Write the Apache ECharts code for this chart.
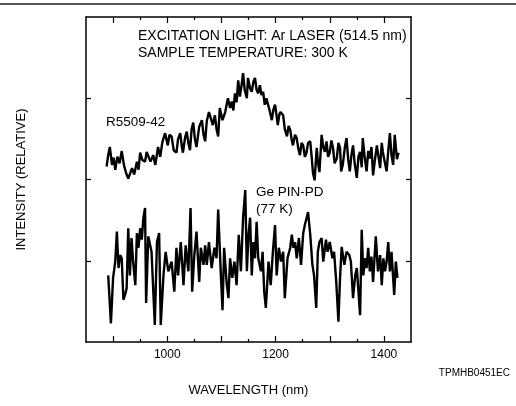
<!DOCTYPE html>
<html>
<head>
<meta charset="utf-8">
<script src="https://cdn.jsdelivr.net/npm/echarts@6/dist/echarts.min.js"></script>
<style>
  html, body { margin: 0; padding: 0; background: #fff; }
  #chart { width: 516px; height: 406px; }
</style>
</head>
<body>
<div id="chart"></div>
<script>
// R5509-42 spectrum (upper trace)
var wlSample = [888,891,894,898,901,904,908,912,916,920,
  924,928,931,935,939,944,947,950,954,959,
  962,965,969,974,978,983,987,991,996,1001,
  1004,1008,1012,1017,1020,1024,1027,1029,1033,1036,
  1039,1042,1045,1048,1051,1054,1059,1064,1067,1070,
  1073,1077,1081,1084,1088,1091,1094,1097,1102,1107,
  1112,1116,1119,1122,1125,1128,1131,1134,1137,1140,
  1143,1147,1149,1153,1156,1159,1162,1165,1168,1171,
  1174,1177,1180,1183,1186,1189,1193,1196,1199,1202,
  1204,1207,1209,1214,1217,1221,1224,1227,1230,1232,
  1236,1239,1242,1245,1248,1251,1254,1257,1260,1264,
  1267,1269,1272,1276,1278,1281,1285,1288,1291,1294,
  1297,1300,1303,1306,1309,1313,1316,1319,1321,1324,
  1328,1331,1334,1337,1340,1343,1346,1350,1353,1356,
  1359,1361,1364,1368,1371,1374,1377,1380,1383,1387,
  1390,1393,1396,1398,1402,1405,1408,1411,1414,1417,
  1420,1424,1427];
var intSample = [2.16,2.30,2.40,2.18,2.27,2.12,2.28,2.20,2.35,2.18,
  2.08,2.01,1.99,2.14,2.06,2.22,2.12,2.33,2.24,2.22,
  2.34,2.36,2.22,2.30,2.18,2.40,2.28,2.46,2.57,2.42,
  2.55,2.53,2.36,2.33,2.50,2.57,2.40,2.33,2.52,2.59,
  2.45,2.36,2.62,2.70,2.50,2.40,2.65,2.73,2.55,2.47,
  2.72,2.83,2.74,2.67,2.79,2.62,2.53,2.88,2.73,2.83,
  3.00,2.88,2.96,2.85,3.06,2.95,3.22,3.02,3.15,3.31,
  3.10,3.00,3.25,3.12,3.08,3.20,3.25,3.10,3.06,3.16,
  3.04,3.08,2.92,3.00,2.98,2.85,2.73,2.86,2.92,2.78,
  2.67,2.80,2.83,2.79,2.62,2.53,2.66,2.61,2.48,2.42,
  2.55,2.51,2.38,2.30,2.45,2.42,2.28,2.33,2.45,2.47,
  2.25,2.08,1.99,2.39,2.22,2.09,2.55,2.40,2.34,2.47,
  2.28,2.33,2.48,2.39,2.20,2.26,2.45,2.39,2.10,2.18,
  2.40,2.51,2.25,2.10,2.30,2.42,2.20,2.02,2.28,2.34,
  2.15,2.51,2.30,2.10,2.35,2.26,2.40,2.05,2.22,2.42,
  2.28,2.14,2.45,2.34,2.20,2.10,2.35,2.57,2.30,2.18,
  2.55,2.25,2.33];

// Ge PIN-PD (77 K) spectrum (lower trace)
var wlGe = [891,896,900,904,907,910,913,916,919,922,925,928,931,934,937,941,944,947,950,953,
  956,959,961,965,971,977,981,985,988,993,997,1002,1008,1013,1017,1020,1025,1030,1034,1039,
  1043,1046,1050,1054,1059,1062,1067,1070,1073,1077,1082,1087,1091,1094,1099,1102,1105,1110,1113,1116,
  1120,1124,1128,1132,1136,1140,1144,1147,1150,1153,1156,1159,1162,1165,1168,1173,1176,1179,1182,1187,
  1191,1195,1199,1202,1206,1210,1214,1217,1222,1227,1230,1233,1236,1239,1243,1247,1251,1254,1260,1264,
  1268,1271,1275,1278,1281,1285,1288,1293,1296,1300,1305,1308,1312,1316,1319,1322,1327,1331,1336,1339,
  1343,1347,1350,1353,1356,1359,1362,1365,1368,1371,1374,1377,1380,1385,1389,1393,1396,1399,1402,1405,
  1408,1411,1414,1419,1422,1425];
var intGe = [0.82,0.23,0.79,0.99,1.36,0.91,1.07,1.03,0.52,0.58,0.66,1.40,0.82,1.28,0.99,0.70,1.34,1.16,1.40,1.26,
  1.53,1.65,0.48,1.30,1.11,0.21,1.23,1.34,0.21,0.82,1.11,0.87,0.99,0.62,1.16,0.82,1.23,0.70,1.19,0.87,
  1.65,0.62,1.07,1.36,0.74,1.16,0.95,1.19,0.95,1.23,0.91,1.16,1.03,1.63,0.82,0.39,1.16,0.70,0.54,1.03,
  0.79,0.99,0.70,1.32,0.87,1.53,1.87,0.87,1.32,1.53,0.82,1.23,1.03,1.48,1.03,0.87,1.11,0.62,0.42,0.99,
  0.70,1.11,1.44,0.82,1.16,0.99,1.11,0.54,1.03,1.16,1.32,1.16,1.23,1.03,1.28,0.95,1.34,1.44,1.60,1.32,
  0.95,0.82,0.42,1.11,1.23,1.28,0.99,1.26,1.11,1.23,1.03,1.11,0.74,0.25,0.79,1.17,0.95,1.11,1.07,0.99,
  0.54,0.82,0.91,0.62,0.33,1.38,0.82,1.03,0.91,1.16,0.87,1.05,0.74,1.30,0.87,1.07,0.70,1.03,0.87,0.99,
  1.23,0.87,1.11,0.58,0.99,0.79];

// axis ticks
var xMajorTicks = [900, 1000, 1100, 1200, 1300, 1400];
var xMinorTicks = [950, 1050, 1150, 1250, 1350];
var xLabels = [1000, 1200, 1400];
var yTicks = [1, 2, 3];

function pairs(xs, ys) {
  return xs.map(function (x, i) { return [x, ys[i]]; });
}

var font = '"Liberation Sans", Arial, Helvetica, sans-serif';

function xAx(pos, ticks, len, showLine, labels) {
  return {
    type: 'value', position: pos, min: 850, max: 1450, interval: 50,
    axisLine: { show: showLine, lineStyle: { color: '#000', width: 1.5 } },
    axisTick: { inside: true, length: len, customValues: ticks, lineStyle: { color: '#000', width: 1.2 } },
    axisLabel: labels ? {
      customValues: labels, color: '#000', fontSize: 12, fontFamily: font, margin: 7,
      formatter: function (v) { return String(v); }
    } : { show: false },
    splitLine: { show: false }
  };
}

function yAx(pos) {
  return {
    type: 'value', position: pos, min: 0, max: 4, interval: 1,
    axisLine: { show: true, lineStyle: { color: '#000', width: 1.5 } },
    axisTick: { inside: true, length: 5, customValues: yTicks, lineStyle: { color: '#000', width: 1.2 } },
    axisLabel: { show: false },
    splitLine: { show: false }
  };
}

var chart = echarts.init(document.getElementById('chart'));

var xBottom = xAx('bottom', xMajorTicks, 6, true, xLabels);
xBottom.name = 'WAVELENGTH (nm)';
xBottom.nameLocation = 'middle';
xBottom.nameGap = 42;
xBottom.nameTextStyle = { color: '#000', fontSize: 13, fontFamily: font };

var yLeft = yAx('left');
yLeft.name = 'INTENSITY (RELATIVE)';
yLeft.nameLocation = 'middle';
yLeft.nameGap = 58;
yLeft.nameTextStyle = { color: '#000', fontSize: 13, fontFamily: font };

chart.setOption({
  animation: false,
  backgroundColor: '#fff',
  grid: { left: 86, right: 105, top: 17, bottom: 64 },
  xAxis: [
    xBottom,
    xAx('bottom', xMinorTicks, 3, false, null),
    xAx('top', xMajorTicks, 6, true, null),
    xAx('top', xMinorTicks, 3, false, null)
  ],
  yAxis: [yLeft, yAx('right')],
  graphic: [
    { type: 'line', shape: { x1: 0, y1: 4, x2: 516, y2: 4 }, style: { stroke: '#555', lineWidth: 2 } },
    { type: 'text', left: 138, top: 29, style: { text: 'EXCITATION LIGHT: Ar LASER (514.5 nm)', font: '14px ' + font, fill: '#000' } },
    { type: 'text', left: 138, top: 46, style: { text: 'SAMPLE TEMPERATURE: 300 K', font: '14px ' + font, fill: '#000' } },
    { type: 'text', left: 106, top: 115, style: { text: 'R5509-42', font: '13.5px ' + font, fill: '#000' } },
    { type: 'text', left: 256, top: 185, style: { text: 'Ge PIN-PD', font: '13.5px ' + font, fill: '#000' } },
    { type: 'text', left: 256, top: 202, style: { text: '(77 K)', font: '13.5px ' + font, fill: '#000' } },
    { type: 'text', right: 6, top: 368, style: { text: 'TPMHB0451EC', font: '10px ' + font, fill: '#000' } }
  ],
  series: [
    {
      name: 'R5509-42', type: 'line', xAxisIndex: 0, yAxisIndex: 0,
      showSymbol: false, symbol: 'none',
      lineStyle: { color: '#000', width: 2.4 },
      data: pairs(wlSample, intSample)
    },
    {
      name: 'Ge PIN-PD (77 K)', type: 'line', xAxisIndex: 0, yAxisIndex: 0,
      showSymbol: false, symbol: 'none',
      lineStyle: { color: '#000', width: 2.4 },
      data: pairs(wlGe, intGe)
    }
  ]
});
</script>
</body>
</html>
